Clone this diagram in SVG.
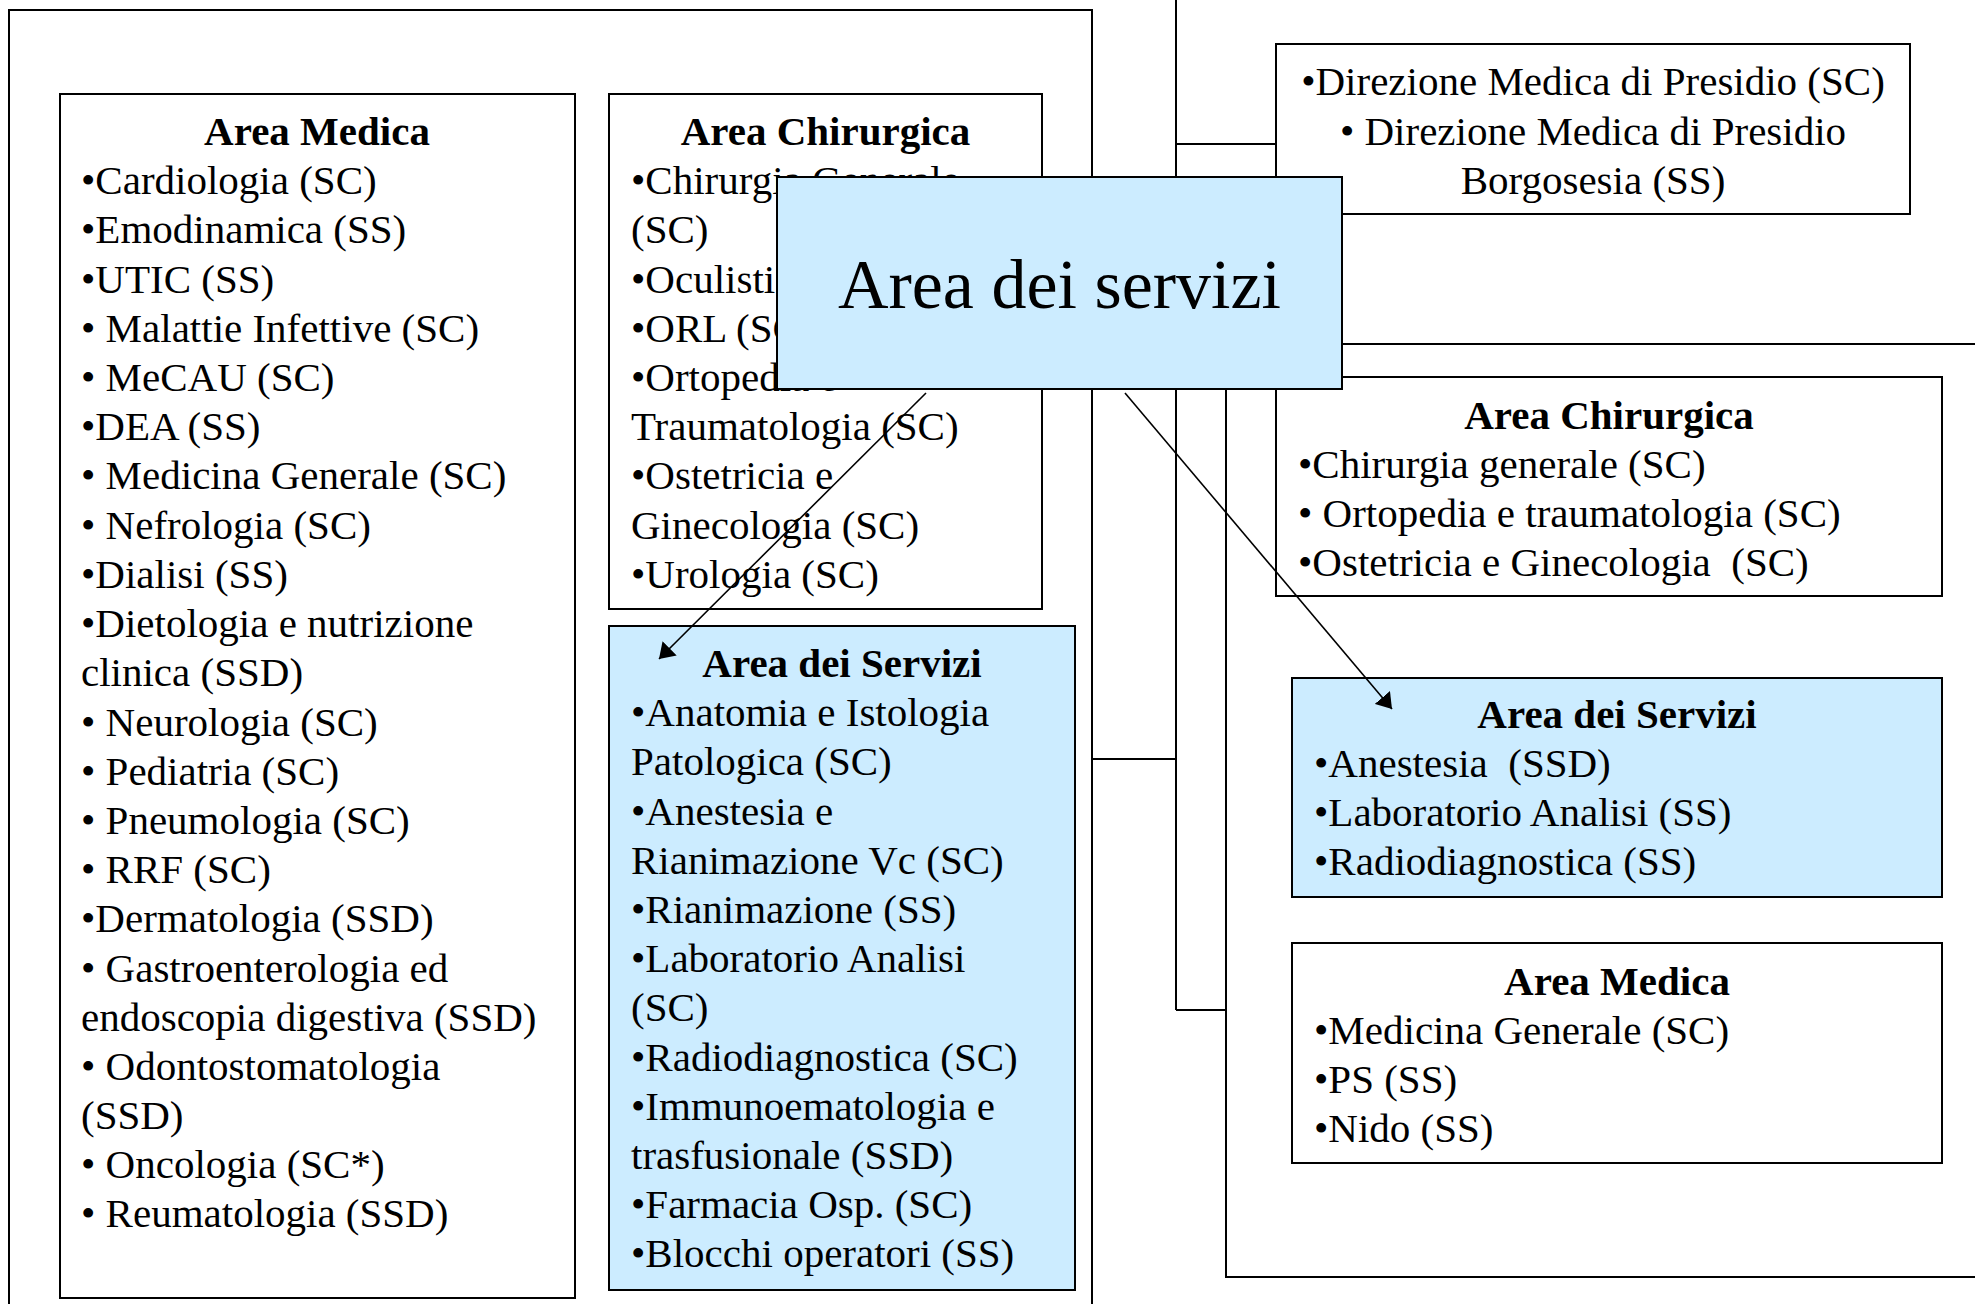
<svg xmlns="http://www.w3.org/2000/svg" width="1975" height="1304" viewBox="0 0 1975 1304">
<defs>
<style>
.box{fill:#ffffff;stroke:#000000;stroke-width:2}
.blue{fill:#CCECFF;stroke:#000000;stroke-width:2}
.frame{fill:none;stroke:#000000;stroke-width:2}
.ln{fill:none;stroke:#000000;stroke-width:2}
.arr{fill:none;stroke:#000000;stroke-width:1.6;marker-end:url(#ah)}
text{font-family:"Liberation Serif","Times New Roman",serif;font-size:41px;fill:#000000}
.h{font-weight:bold;text-anchor:middle}
.c{text-anchor:middle}
.big{font-size:70px;text-anchor:middle}
</style>
<marker id="ah" viewBox="0 0 15 20" refX="15" refY="10" markerWidth="15" markerHeight="20" markerUnits="userSpaceOnUse" orient="auto">
<path d="M0,0 L15,10 L0,20 Z" fill="#000000"/>
</marker>
</defs>
<rect width="1975" height="1304" fill="#ffffff"/>

<g id="frame-left"><rect class="frame" x="9" y="10" width="1083" height="1320"/></g>
<g id="frame-right"><rect class="frame" x="1226" y="344" width="800" height="933"/></g>

<g id="connectors">
<line class="ln" x1="1176" y1="0" x2="1176" y2="1010"/>
<line class="ln" x1="1176" y1="144" x2="1276" y2="144"/>
<line class="ln" x1="1092" y1="759" x2="1176" y2="759"/>
<line class="ln" x1="1176" y1="1010" x2="1226" y2="1010"/>
</g>

<g id="area-medica-left">
<rect class="box" x="60" y="94" width="515" height="1204"/>
<text class="h" x="317" y="145">Area Medica</text>
<text x="81" y="194">•Cardiologia (SC)</text>
<text x="81" y="243">•Emodinamica (SS)</text>
<text x="81" y="293">•UTIC (SS)</text>
<text x="81" y="342">• Malattie Infettive (SC)</text>
<text x="81" y="391">• MeCAU (SC)</text>
<text x="81" y="440">•DEA (SS)</text>
<text x="81" y="489">• Medicina Generale (SC)</text>
<text x="81" y="539">• Nefrologia (SC)</text>
<text x="81" y="588">•Dialisi (SS)</text>
<text x="81" y="637">•Dietologia e nutrizione</text>
<text x="81" y="686">clinica (SSD)</text>
<text x="81" y="736">• Neurologia (SC)</text>
<text x="81" y="785">• Pediatria (SC)</text>
<text x="81" y="834">• Pneumologia (SC)</text>
<text x="81" y="883">• RRF (SC)</text>
<text x="81" y="932">•Dermatologia (SSD)</text>
<text x="81" y="982">• Gastroenterologia ed</text>
<text x="81" y="1031">endoscopia digestiva (SSD)</text>
<text x="81" y="1080">• Odontostomatologia</text>
<text x="81" y="1129">(SSD)</text>
<text x="81" y="1178">• Oncologia (SC*)</text>
<text x="81" y="1227">• Reumatologia (SSD)</text>
</g>

<g id="area-chirurgica-left">
<rect class="box" x="609" y="94" width="433" height="515"/>
<text class="h" x="825.5" y="145">Area Chirurgica</text>
<text x="631" y="194">•Chirurgia Generale</text>
<text x="631" y="243">(SC)</text>
<text x="631" y="293">•Oculistica</text>
<text x="631" y="342">•ORL (SC)</text>
<text x="631" y="391">•Ortopedia e</text>
<text x="631" y="440">Traumatologia (SC)</text>
<text x="631" y="489">•Ostetricia e</text>
<text x="631" y="539">Ginecologia (SC)</text>
<text x="631" y="588">•Urologia (SC)</text>
</g>

<g id="area-servizi-left">
<rect class="blue" x="609" y="626" width="466" height="664"/>
<text class="h" x="842" y="677">Area dei Servizi</text>
<text x="631" y="726">•Anatomia e Istologia</text>
<text x="631" y="775">Patologica (SC)</text>
<text x="631" y="825">•Anestesia e</text>
<text x="631" y="874">Rianimazione Vc (SC)</text>
<text x="631" y="923">•Rianimazione (SS)</text>
<text x="631" y="972">•Laboratorio Analisi</text>
<text x="631" y="1021">(SC)</text>
<text x="631" y="1071">•Radiodiagnostica (SC)</text>
<text x="631" y="1120">•Immunoematologia e</text>
<text x="631" y="1169">trasfusionale (SSD)</text>
<text x="631" y="1218">•Farmacia Osp. (SC)</text>
<text x="631" y="1267">•Blocchi operatori (SS)</text>
</g>

<g id="direzione">
<rect class="box" x="1276" y="44" width="634" height="170"/>
<text class="c" x="1593" y="95">•Direzione Medica di Presidio (SC)</text>
<text class="c" x="1593" y="145">• Direzione Medica di Presidio</text>
<text class="c" x="1593" y="194">Borgosesia (SS)</text>
</g>

<g id="area-chirurgica-right">
<rect class="box" x="1276" y="377" width="666" height="219"/>
<text class="h" x="1609" y="429">Area Chirurgica</text>
<text x="1298" y="478">•Chirurgia generale (SC)</text>
<text x="1298" y="527">• Ortopedia e traumatologia (SC)</text>
<text x="1298" y="576" xml:space="preserve">•Ostetricia e Ginecologia  (SC)</text>
</g>

<g id="area-servizi-right">
<rect class="blue" x="1292" y="678" width="650" height="219"/>
<text class="h" x="1617" y="728">Area dei Servizi</text>
<text x="1314" y="777" xml:space="preserve">•Anestesia  (SSD)</text>
<text x="1314" y="826">•Laboratorio Analisi (SS)</text>
<text x="1314" y="875">•Radiodiagnostica (SS)</text>
</g>

<g id="area-medica-right">
<rect class="box" x="1292" y="943" width="650" height="220"/>
<text class="h" x="1617" y="995">Area Medica</text>
<text x="1314" y="1044">•Medicina Generale (SC)</text>
<text x="1314" y="1093">•PS (SS)</text>
<text x="1314" y="1142">•Nido (SS)</text>
</g>

<g id="area-dei-servizi-main">
<rect class="blue" x="777" y="177" width="565" height="212"/>
<text class="big" x="1059.5" y="308">Area dei servizi</text>
</g>

<g id="arrows">
<line class="arr" x1="926" y1="393" x2="659" y2="659"/>
<line class="arr" x1="1125" y1="393" x2="1392" y2="709"/>
</g>
</svg>
